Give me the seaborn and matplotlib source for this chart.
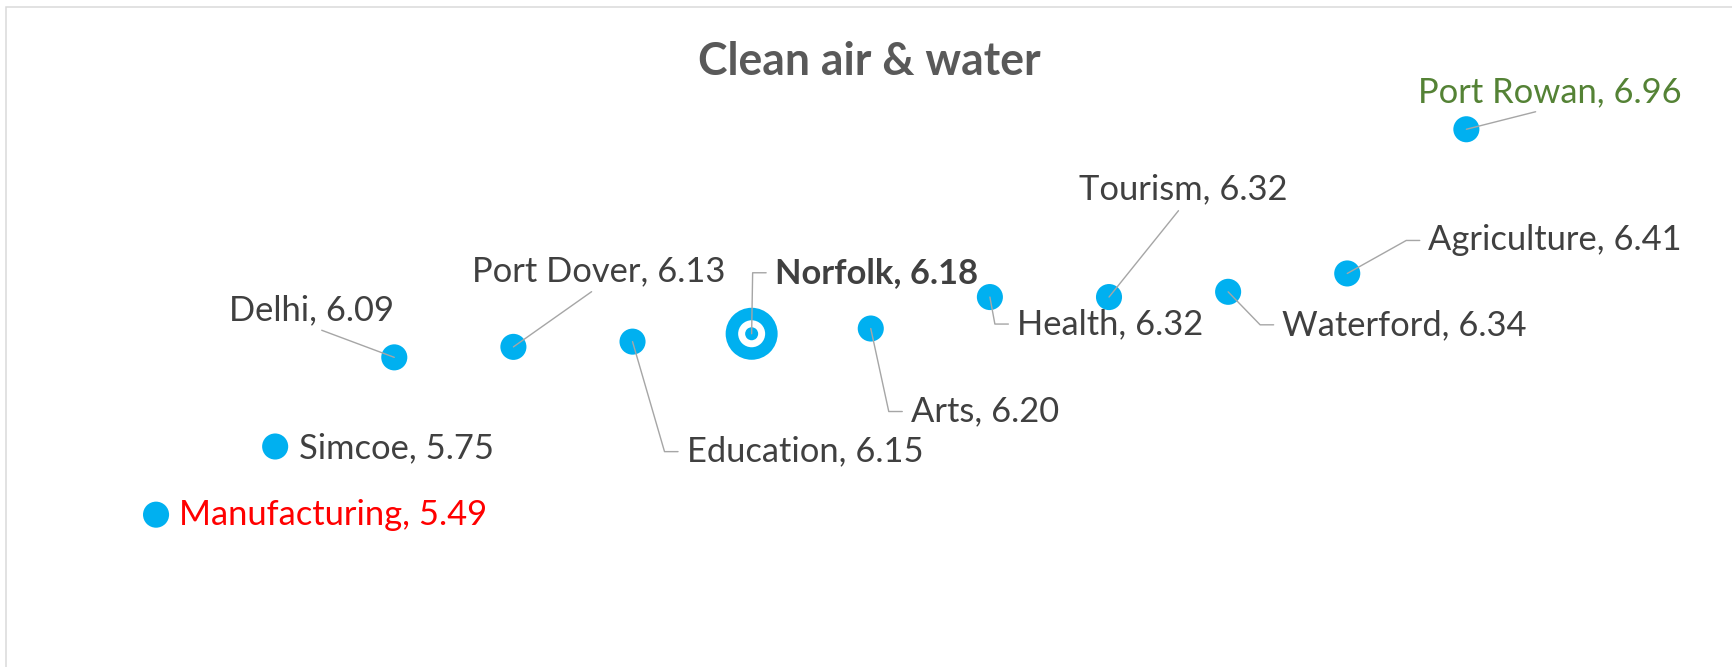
import numpy as np
import pandas as pd
import matplotlib.pyplot as plt
import seaborn as sns
from matplotlib.patches import Rectangle

# data, sorted from lowest to highest score
names = ['Manufacturing', 'Simcoe', 'Delhi', 'Port Dover', 'Education', 'Norfolk',
         'Arts', 'Health', 'Tourism', 'Waterford', 'Agriculture', 'Port Rowan']
scores = [5.49, 5.75, 6.09, 6.13, 6.15, 6.18, 6.20, 6.32, 6.32, 6.34, 6.41, 6.96]
highlight = 'Norfolk'
title = 'Clean air & water'

# styling
dot_color = '#00B0F0'
text_color = '#404040'
lead_color = '#A6A6A6'
label_colors = {'Manufacturing': '#FF0000', 'Port Rowan': '#548235'}

# label placement: dx, dy (points from the dot), horizontal anchor, leader type
label_pos = {
    'Manufacturing': (23, 0, 'left', None),
    'Simcoe': (24, -2, 'left', None),
    'Delhi': (-83, 47, 'center', 'straight'),
    'Port Dover': (85, 76, 'center', 'straight'),
    'Education': (54, -110, 'left', 'elbow'),
    'Norfolk': (23, 61, 'left', 'elbow'),
    'Arts': (40, -83, 'left', 'elbow'),
    'Health': (27, -27, 'left', 'elbow'),
    'Tourism': (74, 108, 'center', 'straight'),
    'Waterford': (54, -33, 'left', 'elbow'),
    'Agriculture': (81, 33, 'left', 'elbow'),
    'Port Rowan': (83, 37, 'center', 'straight'),
}

df = pd.DataFrame({'name': names, 'score': scores})
df['rank'] = np.arange(len(df))

sns.set_style('white')
plt.rcParams['font.family'] = ['Lato', 'DejaVu Sans']

fig = plt.figure(figsize=(1732 / 72, 667 / 72), dpi=72)
ax = fig.add_axes([0, 0, 1, 1])

sns.scatterplot(data=df, x='rank', y='score', ax=ax, color=dot_color, s=680,
                edgecolor='none', legend=False, zorder=1)

# highlighted entry drawn as a target
hl = df[df['name'] == highlight]
ax.scatter(hl['rank'], hl['score'], s=52 ** 2, color=dot_color, edgecolor='none', zorder=2)
ax.scatter(hl['rank'], hl['score'], s=27 ** 2, color='white', edgecolor='none', zorder=2)
ax.scatter(hl['rank'], hl['score'], s=13 ** 2, color=dot_color, edgecolor='none', zorder=2)

for _, row in df.iterrows():
    dx, dy, ha, lead = label_pos[row['name']]
    txt = '{}, {:.2f}'.format(row['name'], row['score'])
    arrow = None
    if lead == 'straight':
        arrow = dict(arrowstyle='-', color=lead_color, lw=1.4, shrinkA=4, shrinkB=0,
                     relpos=(0.5, 0))
    elif lead == 'elbow':
        arrow = dict(arrowstyle='-', color=lead_color, lw=1.4, shrinkA=6, shrinkB=0,
                     relpos=(0, 0.5),
                     connectionstyle='arc,angleA=180,armA=22,angleB=0,armB=0,rad=0')
    ax.annotate(txt, xy=(row['rank'], row['score']), xytext=(dx, dy),
                textcoords='offset points', ha=ha, va='center', fontsize=34.5,
                color=label_colors.get(row['name'], text_color),
                fontweight='bold' if row['name'] == highlight else 'normal',
                arrowprops=arrow, zorder=3)

ax.set_xlim(-1.31, 13.23)
ax.set_ylim(4.909, 7.453)
ax.axis('off')

fig.text(869 / 1732, 1 - 62 / 667, title, ha='center', va='center', fontsize=44.5,
         fontweight='bold', color='#595959')

# chart frame (cropped on the right and bottom)
fig.patches.append(Rectangle((6 / 1732, -0.1), 1.2, 1.1 - 7 / 667, transform=fig.transFigure,
                             fill=False, edgecolor='#D9D9D9', lw=1.5))

fig.savefig('out.png', dpi=72, facecolor='white')
